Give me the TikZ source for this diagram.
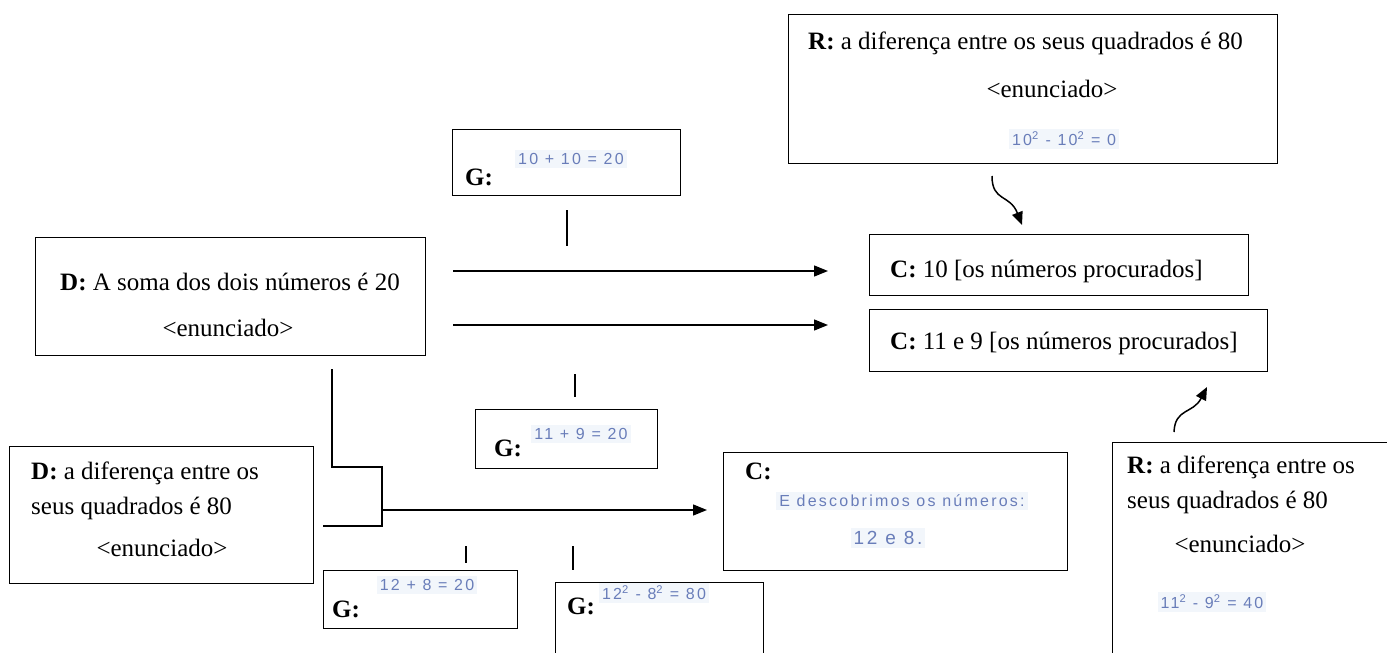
\documentclass[tikz,border=0pt]{standalone}
\usepackage{fontspec}
\setmainfont{Liberation Serif}
\newfontfamily\handfont[LetterSpace=14]{Liberation Sans}
\usetikzlibrary{arrows.meta,calc}
\definecolor{ink}{RGB}{105,125,185}
\definecolor{paper}{RGB}{242,246,251}

\begin{document}
\begin{tikzpicture}[x=1pt,y=-1pt,
  box/.style={draw, line width=1.4pt, inner sep=0pt, anchor=north west, fill=white},
  txt/.style={inner sep=0pt, font=\fontsize{25}{30}\selectfont},
  hw/.style={inner sep=3pt, fill=paper, text=ink, font=\handfont\fontsize{16}{20}\selectfont},
  link/.style={line width=1.4pt},
  arr/.style={line width=1.4pt, -{Triangle[length=14pt,width=11pt]}},
  curvearr/.style={line width=1.5pt, -{Triangle[length=13pt,width=11pt]}},
]
\useasboundingbox (0,0) rectangle (1387,653);
\clip (0,0) rectangle (1387,653);
\fill[white] (0,0) rectangle (1387,653);

% ---- boxes ----
\node[box, minimum width=489pt, minimum height=149pt] (rtop) at (788,14) {};
\node[box, minimum width=228pt, minimum height=66pt]  (gtop) at (452,129) {};
\node[box, minimum width=390pt, minimum height=118pt] (d1)   at (35,237) {};
\node[box, minimum width=379pt, minimum height=61pt]  (c1)   at (869,234) {};
\node[box, minimum width=398pt, minimum height=62pt]  (c2)   at (869,309) {};
\node[box, minimum width=182pt, minimum height=59pt]  (g2)   at (475,409) {};
\node[box, minimum width=304pt, minimum height=137pt] (d2)   at (9,446) {};
\node[box, minimum width=344pt, minimum height=118pt] (c3)   at (723,452) {};
\node[box, minimum width=194pt, minimum height=58pt]  (g3)   at (323,570) {};
\node[box, minimum width=208pt, minimum height=100pt] (g4)   at (555,582) {};
\node[box, minimum width=300pt, minimum height=260pt] (rbot) at (1112,442) {};

% ---- texts ----
\node[txt, anchor=base west] (rtopA) at (808,49) {\textbf{R:} a diferença entre os seus quadrados é 80};
\node[txt, anchor=base] (rtopB) at (1052,97) {<enunciado>};
\node[hw] (rtopH) at (1064,139) {10\textsuperscript{2} - 10\textsuperscript{2} = 0};

\node[txt, anchor=base west] (gtopA) at (465,185) {\textbf{G:}};
\node[hw] (gtopH) at (571,159) {10 + 10 = 20};

\node[txt, anchor=base] (d1A) at (230,290) {\textbf{D:} A soma dos dois números é 20};
\node[txt, anchor=base] (d1B) at (228,336) {<enunciado>};

\node[txt, anchor=base west] (c1A) at (890,277) {\textbf{C:} 10 [os números procurados]};
\node[txt, anchor=base west] (c2A) at (890,349) {\textbf{C:} 11 e 9 [os números procurados]};

\node[txt, anchor=base west] (g2A) at (494,456) {\textbf{G:}};
\node[hw] (g2H) at (581,434) {11 + 9 = 20};

\node[txt, anchor=base west] (d2A) at (31,479) {\textbf{D:} a diferença entre os};
\node[txt, anchor=base west] (d2B) at (31,514) {seus quadrados é 80};
\node[txt, anchor=base] (d2C) at (162,556) {<enunciado>};

\node[txt, anchor=base west] (c3A) at (745,479) {\textbf{C:}};
\node[hw] (c3H1) at (902,501) {E descobrimos os números:};
\node[hw, font=\handfont\fontsize{19}{22}\selectfont] (c3H2) at (888,538) {12 e 8.};

\node[txt, anchor=base west] (g3A) at (332,617) {\textbf{G:}};
\node[hw] (g3H) at (427,585) {12 + 8 = 20};

\node[txt, anchor=base west] (g4A) at (567,614) {\textbf{G:}};
\node[hw] (g4H) at (654,593) {12\textsuperscript{2} - 8\textsuperscript{2} = 80};

\node[txt, anchor=base west] (rbotA) at (1127,473) {\textbf{R:} a diferença entre os};
\node[txt, anchor=base west] (rbotB) at (1127,508) {seus quadrados é 80};
\node[txt, anchor=base] (rbotC) at (1240,552) {<enunciado>};
\node[hw] (rbotH) at (1212,602) {11\textsuperscript{2} - 9\textsuperscript{2} = 40};

% ---- connector end points ----
\coordinate (t1a) at (567,210);  \coordinate (t1b) at (567,246);
\coordinate (t2a) at (575,374);  \coordinate (t2b) at (575,397);
\coordinate (t3a) at (466,546);  \coordinate (t3b) at (466,563);
\coordinate (t4a) at (573,546);  \coordinate (t4b) at (573,570);
\coordinate (a1s) at (453,271);  \coordinate (a1e) at (828,271);
\coordinate (a2s) at (453,325);  \coordinate (a2e) at (828,325);
\coordinate (e1) at (332,369);   \coordinate (e2) at (382,467);
\coordinate (e3) at (323,526);
\coordinate (a3s) at (382,510);  \coordinate (a3e) at (707,510);
\coordinate (k1s) at (992,176);  \coordinate (k1e) at (1022,225);
\coordinate (k2s) at (1174,432); \coordinate (k2e) at (1207,387);

% ---- connectors ----
\draw[link] (t1a) -- (t1b);
\draw[link] (t2a) -- (t2b);
\draw[link] (t3a) -- (t3b);
\draw[link] (t4a) -- (t4b);
\draw[arr] (a1s) -- (a1e);
\draw[arr] (a2s) -- (a2e);
\draw[link] (e1) |- (e2) |- (e3);
\draw[arr] (a3s) -- (a3e);
\draw[curvearr] (k1s) .. controls (992,202) and (1010,194) .. (k1e);
\draw[curvearr] (k2s) .. controls (1175,408) and (1193,414) .. (k2e);
\end{tikzpicture}
\end{document}
